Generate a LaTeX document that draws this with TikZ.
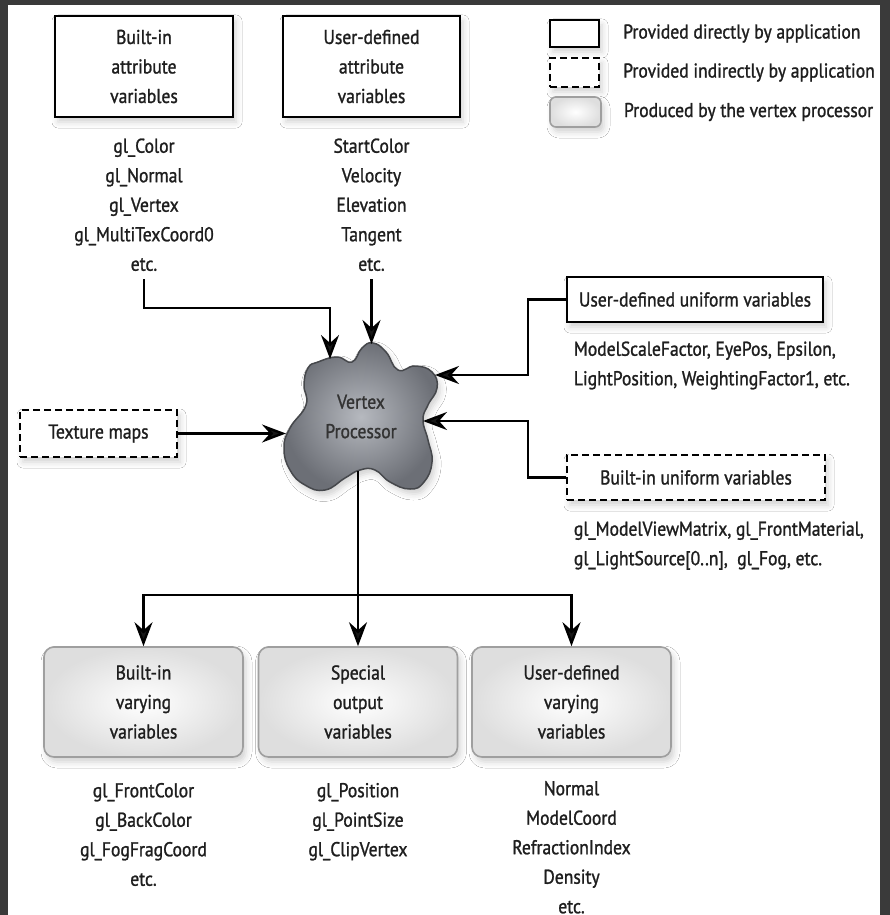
\documentclass[tikz,border=0pt]{standalone}
\usepackage{fontspec}
\setmainfont{PT Sans}[FakeStretch=0.88,FakeBold=1.2]
\usetikzlibrary{arrows.meta,positioning,shadows.blur}
\definecolor{frame}{RGB}{58,58,58}
\definecolor{ink}{RGB}{30,30,30}
\definecolor{blobin}{RGB}{182,185,191}
\definecolor{blobout}{RGB}{108,111,118}
\definecolor{blobline}{RGB}{70,72,76}
\tikzset{lbl/.style={font=\fontsize{20}{29.5}\selectfont,text=ink,inner sep=0pt,align=center},
  soft/.style={blur shadow={shadow xshift=3pt,shadow yshift=-5pt,shadow blur radius=6pt,shadow opacity=18}},
  appbox/.style={lbl,draw,line width=2.6pt,fill=white,soft},
  indbox/.style={appbox,dash pattern=on 7pt off 4pt},
  outbox/.style={lbl,draw=gray!75,line width=1.6pt,rounded corners=10pt,inner color=white,outer color=gray!26,minimum width=199pt,minimum height=110pt,soft},
  conn/.style={line width=2.4pt,-{Stealth[length=24pt,width=18pt,inset=8pt]}},
  wire/.style={line width=2.4pt}}
\begin{document}
\begin{tikzpicture}[x=1pt,y=-1pt]
\fill[frame] (0,0) rectangle (890,915);
\fill[white] (8,5) rectangle (880,915);
\useasboundingbox (0,0) rectangle (890,915);
% attribute inputs
\node[appbox,minimum width=178pt,minimum height=101pt] (batt) at (144,66.5) {Built-in\\attribute\\variables};
\node[appbox,minimum width=177pt,minimum height=101pt] (uatt) at (371.5,66.5) {User-defined\\attribute\\variables};
\node[lbl,below=20pt of batt] (battlist) {gl\_Color\\gl\_Normal\\gl\_Vertex\\gl\_MultiTexCoord0\\etc.};
\node[lbl,below=20pt of uatt] (uattlist) {StartColor\\Velocity\\Elevation\\Tangent\\etc.};
% legend
\node[appbox,line width=2pt,minimum width=49pt,minimum height=27pt] (legdir) at (574.5,33.5) {};
\node[indbox,line width=2pt,minimum width=49pt,minimum height=29pt] (legind) at (574.5,72.5) {};
\node[outbox,minimum width=51pt,minimum height=30pt,rounded corners=6pt] (legout) at (575.5,112) {};
\node[lbl,right=23pt of legdir] (legdirtxt) {Provided directly by application};
\node[lbl,right=23pt of legind] (legindtxt) {Provided indirectly by application};
\node[lbl,right=22pt of legout] (legouttxt) {Produced by the vertex processor};
% vertex processor
\draw[blobline,line width=1.5pt,inner color=blobin,outer color=blobout,soft] plot[smooth cycle,tension=0.8] coordinates {
  (318,362) (337,357) (352,362) (362,348) (373,343) (386,352) (398,370) (415,366)
  (432,372) (437,388) (428,405) (423,420) (428,440) (432,462) (424,482) (410,489)
  (390,482) (375,470) (360,470) (345,478) (325,490) (305,485) (290,470) (284,448)
  (290,428) (306,405) (304,385) (308,368)};
\node[lbl,text=black!80] (vp) at (361,416.5) {Vertex\\Processor};
\coordinate (vpa) at (330,359);
\coordinate (vpb) at (371.5,344);
\coordinate (vpc) at (286,433.5);
\coordinate (vpd) at (435,375);
\coordinate (vpe) at (423,421);
\coordinate (vpf) at (358,471);
\coordinate (split) at (358,595);
% uniforms and textures
\node[appbox,minimum width=256pt,minimum height=45pt] (uuni) at (695,299.5) {User-defined uniform variables};
\node[lbl,align=left,below right=18pt and 8pt of uuni.south west] (uunilist) {ModelScaleFactor, EyePos, Epsilon,\\LightPosition, WeightingFactor1, etc.};
\node[indbox,minimum width=258pt,minimum height=45pt] (buni) at (696,477.5) {Built-in uniform variables};
\node[lbl,align=left,below right=20pt and 8pt of buni.south west] (bunilist) {gl\_ModelViewMatrix, gl\_FrontMaterial,\\gl\_LightSource[0..n],\ \ gl\_Fog, etc.};
\node[indbox,minimum width=157pt,minimum height=47pt] (tex) at (98.5,433.5) {Texture maps};
% outputs
\node[outbox] (bvar) at (143.5,702) {Built-in\\varying\\variables};
\node[outbox] (spec) at (358,702) {Special\\output\\variables};
\node[outbox] (uvar) at (571.5,702) {User-defined\\varying\\variables};
\node[lbl,below=25pt of bvar] (bvarlist) {gl\_FrontColor\\gl\_BackColor\\gl\_FogFragCoord\\etc.};
\node[lbl,below=25pt of spec] (speclist) {gl\_Position\\gl\_PointSize\\gl\_ClipVertex};
\node[lbl,below=23pt of uvar] (uvarlist) {Normal\\ModelCoord\\RefractionIndex\\Density\\etc.};
% connectors
\draw[conn] ([yshift=-8pt]battlist.south) |- (330,308) -- (vpa);
\draw[conn] ([yshift=-8pt]uattlist.south) -- (vpb);
\draw[conn] (tex) -- (vpc);
\draw[conn] (uuni.west) -| (528,375) -- (vpd);
\draw[conn] (buni.west) -| (528,421) -- (vpe);
\draw[wire] (vpf) -- (split);
\draw[conn] (split) -| (bvar.north);
\draw[conn] (split) -- (spec.north);
\draw[conn] (split) -| (uvar.north);
\end{tikzpicture}
\end{document}
